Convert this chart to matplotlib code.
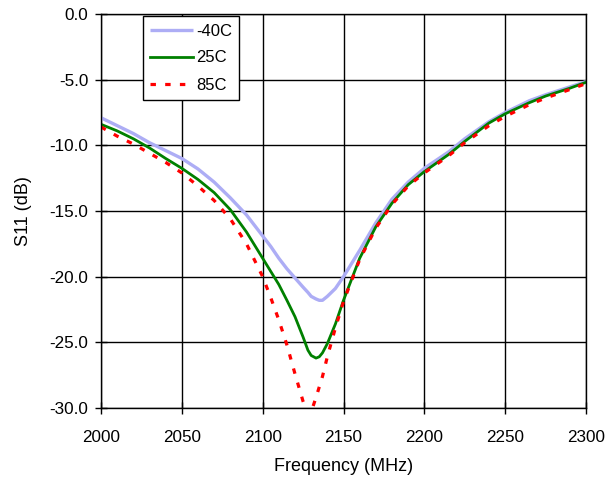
import matplotlib
matplotlib.use("Agg")
import matplotlib.pyplot as plt
from matplotlib.ticker import FormatStrFormatter

freq = [2000, 2010, 2020, 2030, 2040, 2050, 2060, 2070, 2080, 2090, 2100, 2105,
        2110, 2115, 2120, 2125, 2128, 2130, 2133, 2135, 2137, 2140, 2145, 2150,
        2155, 2160, 2170, 2180, 2190, 2200, 2215, 2225, 2240, 2250, 2265, 2275,
        2290, 2300]

s11_m40 = [-7.9, -8.5, -9.1, -9.8, -10.4, -11.0, -11.8, -12.8, -14.0, -15.3, -16.9, -17.7,
           -18.6, -19.4, -20.1, -20.8, -21.2, -21.5, -21.7, -21.8, -21.8, -21.5, -20.9, -20.0,
           -19.0, -18.0, -15.9, -14.1, -12.8, -11.75, -10.5, -9.5, -8.2, -7.5, -6.6, -6.15,
           -5.55, -5.15]

s11_25 = [-8.4, -8.9, -9.5, -10.2, -11.0, -11.75, -12.6, -13.6, -14.9, -16.6, -18.6, -19.6,
          -20.6, -21.8, -23.05, -24.6, -25.6, -26.0, -26.2, -26.1, -25.8, -25.1, -23.6, -21.8,
          -20.2, -18.6, -16.2, -14.4, -13.0, -12.0, -10.7, -9.7, -8.3, -7.6, -6.75, -6.25,
          -5.65, -5.2]

s11_85 = [-8.6, -9.3, -9.9, -10.6, -11.3, -12.1, -13.1, -14.2, -15.6, -17.5, -20.0, -21.6,
          -23.3, -25.2, -27.4, -29.5, -30.5, -30.3, -29.2, -28.4, -27.6, -26.1, -23.9, -21.9,
          -20.3, -18.7, -16.3, -14.5, -13.1, -12.1, -10.8, -9.8, -8.5, -7.8, -6.9, -6.4,
          -5.75, -5.3]

labels = ["-40C", "25C", "85C"]
xticks = [2000, 2050, 2100, 2150, 2200, 2250, 2300]
yticks = [0, -5, -10, -15, -20, -25, -30]

plt.rcParams['font.family'] = ['Liberation Sans', 'DejaVu Sans']

W, H = 607, 480
fig = plt.figure(figsize=(W / 100, H / 100), dpi=100)
ax = fig.add_axes([101 / W, 1 - 408 / H, (586 - 101) / W, (408 - 14) / H])

ax.plot(freq, s11_m40, color='#adadf5', lw=2.4, label=labels[0], solid_capstyle='butt')
ax.plot(freq, s11_25, color='#008000', lw=2.0, label=labels[1])
ax.plot(freq, s11_85, color='#ff0000', lw=2.3, ls=(0, (1.7, 2.9)), label=labels[2])

ax.set_xlim(2000, 2300)
ax.set_ylim(-30, 0)
ax.set_xticks(xticks)
ax.set_yticks(yticks)
ax.yaxis.set_major_formatter(FormatStrFormatter('%.1f'))
ax.grid(True, color='black', lw=1.0)
ax.set_axisbelow(True)
for sp in ax.spines.values():
    sp.set_color('black')
    sp.set_linewidth(1.0)
ax.tick_params(direction='inout', length=8, width=1, labelsize=12.3, colors='black')
ax.tick_params(axis='x', pad=12)
ax.tick_params(axis='y', pad=5)

ax.set_xlabel("Frequency (MHz)", fontsize=13, labelpad=9)
ax.set_ylabel("S11 (dB)", fontsize=13, labelpad=13)

leg = ax.legend(loc='upper left', bbox_to_anchor=(142.5 / W, 1 - 16 / H),
                bbox_transform=fig.transFigure, borderaxespad=0,
                fancybox=False, framealpha=1, edgecolor='black', fontsize=12,
                handlelength=2.6, handletextpad=0.15, labelspacing=0.72,
                borderpad=0.45)
leg.get_frame().set_linewidth(1.0)

fig.savefig("out.png", dpi=100)
